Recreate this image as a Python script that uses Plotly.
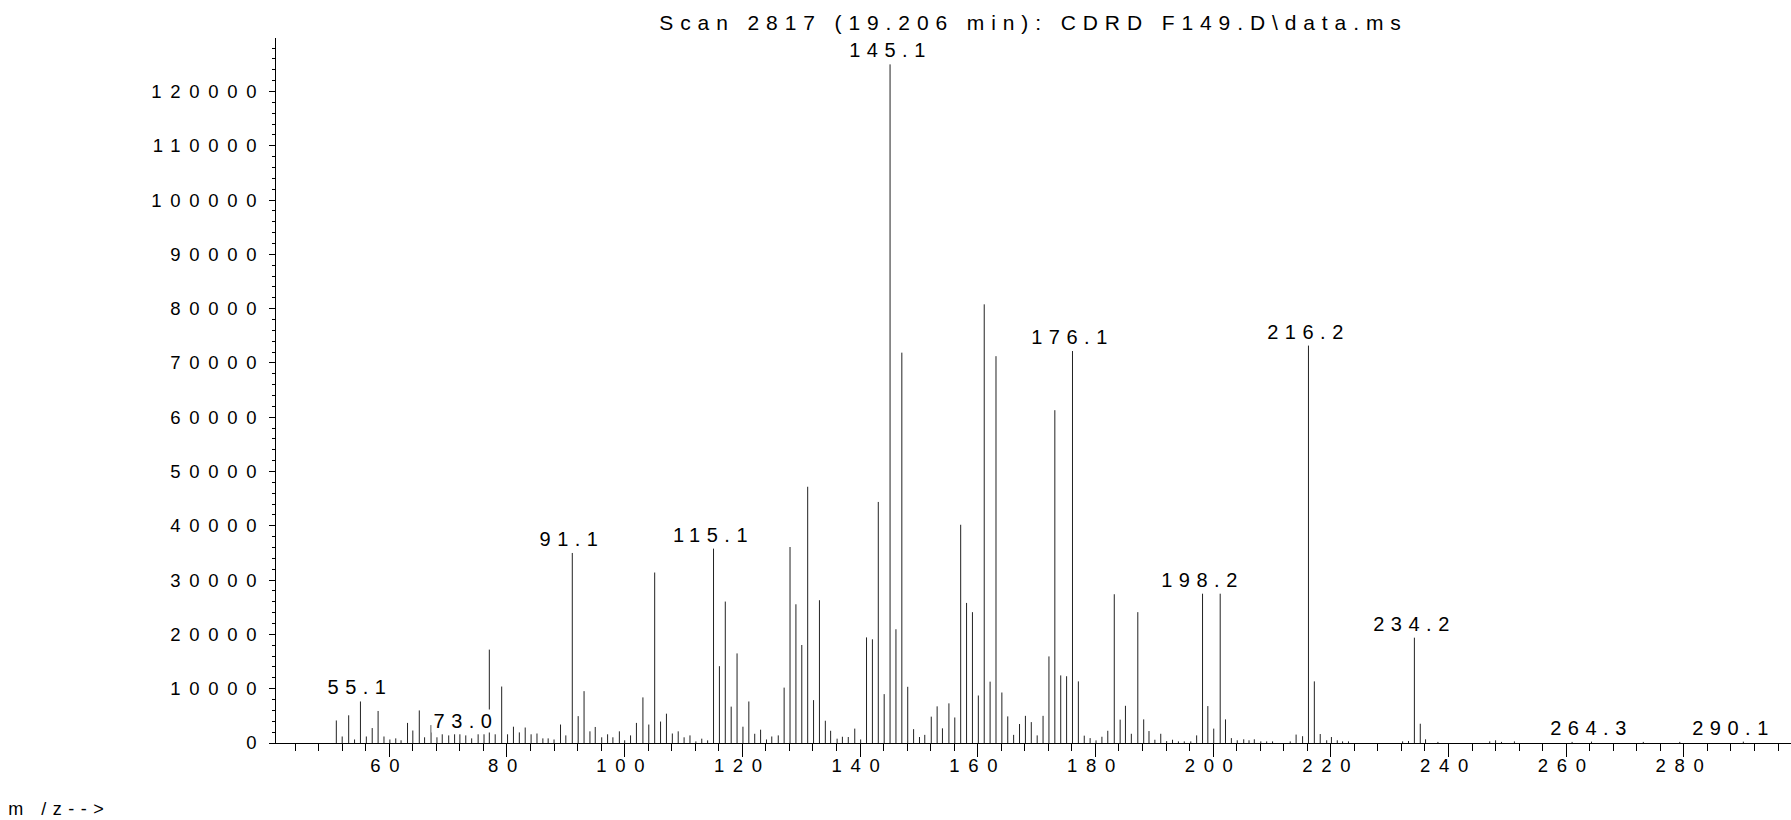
import plotly.graph_objects as go

# ---------------- data ----------------
mz = [51.0, 52.0, 53.1, 54.1, 55.1, 56.1, 57.1, 58.1, 59.1, 60.1, 61.1, 62.0, 63.1, 64.0, 65.1, 66.0,
      67.1, 68.1, 69.0, 70.1, 71.1, 72.0, 73.0, 74.0, 75.1, 76.1, 77.0, 78.0, 79.1, 80.1, 81.1, 82.1,
      83.1, 84.1, 85.1, 86.1, 87.0, 88.0, 89.1, 90.0, 91.1, 92.1, 93.1, 94.1, 95.0, 96.1, 97.1, 98.0,
      99.1, 100.0, 101.0, 102.0, 103.1, 104.1, 105.1, 106.1, 107.1, 108.1, 109.1, 110.1, 111.1, 112.1,
      113.1, 114.1, 115.1, 116.1, 117.1, 118.1, 119.1, 120.1, 121.1, 122.1, 123.1, 124.1, 125.0, 126.1,
      127.1, 128.1, 129.1, 130.1, 131.1, 132.1, 133.1, 134.1, 135.0, 136.1, 137.0, 138.0, 139.1, 140.1,
      141.1, 142.1, 143.1, 144.1, 145.1, 146.1, 147.1, 148.1, 149.1, 150.1, 151.0, 152.1, 153.1, 154.0,
      155.1, 156.1, 157.1, 158.1, 159.1, 160.1, 161.1, 162.1, 163.1, 164.1, 165.1, 166.1, 167.1, 168.1,
      169.1, 170.1, 171.1, 172.1, 173.1, 174.1, 175.1, 176.1, 177.1, 178.1, 179.1, 180.1, 181.1, 182.1,
      183.2, 184.2, 185.1, 186.1, 187.2, 188.2, 189.1, 190.1, 191.1, 192.1, 193.1, 194.1, 195.1, 196.2,
      197.2, 198.2, 199.1, 200.1, 201.2, 202.1, 203.1, 204.1, 205.2, 206.1, 207.0, 208.1, 209.1, 210.1,
      213.1, 214.1, 215.2, 216.2, 217.2, 218.2, 219.3, 220.1, 221.1, 222.0, 223.0, 232.2, 233.2, 234.2,
      235.2, 236.1, 238.2, 247.0, 248.0, 249.0, 251.2, 261.0, 264.3, 273.1, 279.3, 290.1]

abundance = [4150, 1200, 5100, 650, 7650, 1200, 2750, 5900, 1200, 650, 850, 500, 3700, 2300, 6000, 1050,
             3300, 1050, 1600, 1400, 1600, 1600, 1400, 850, 1600, 1600, 17200, 1600, 10400, 1600, 3000, 1950,
             2850, 1600, 1750, 850, 850, 650, 3400, 1400, 35000, 4950, 9550, 2150, 2950, 1050, 1600, 1050,
             2150, 500, 1400, 3700, 8400, 3400, 31400, 3950, 5400, 1750, 2150, 1050, 1400, 300,
             800, 480, 35800, 14150, 26050, 6700, 16500, 3000, 7650, 1700, 2450, 650, 1200, 1400,
             10200, 36100, 25550, 18050, 47200, 7900, 26300, 4100, 2250, 800, 1150, 1100, 2650, 650,
             19450, 19100, 44400, 9000, 125000, 20950, 71900, 10350, 2550, 1100, 1500, 4850, 6750, 2700,
             7300, 4700, 40200, 25800, 24100, 8750, 80800, 11300, 71250, 9300, 4900, 1500, 3500, 5000,
             3850, 1400, 5000, 15950, 61300, 12450, 12300, 72200, 11350, 1350, 900, 480, 1150, 2250,
             27400, 4300, 6850, 1700, 24100, 4350, 2200, 600, 1700, 350, 600, 300, 300, 300,
             1400, 27500, 6800, 2650, 27500, 4350, 900, 500, 680, 500, 680, 300, 300, 300,
             300, 1550, 1250, 73200, 11350, 1650, 500, 1100, 500, 300, 300, 300, 370, 19400,
             3550, 680, 200, 300, 500, 200, 300, 200, 250, 200, 200, 250]

peak_labels = ["55.1", "73.0", "91.1", "115.1", "145.1", "176.1", "198.2", "216.2", "234.2", "264.3", "290.1"]

x_tick_values = [60, 80, 100, 120, 140, 160, 180, 200, 220, 240, 260, 280]
y_tick_values = [0, 10000, 20000, 30000, 40000, 50000, 60000, 70000, 80000, 90000, 100000, 110000, 120000]

title_text = "Scan 2817 (19.206 min): CDRD F149.D\\data.ms"
x_label_text = "m /z-->"

# ---------------- figure ----------------
xs, ys = [], []
for m, a in zip(mz, abundance):
    xs += [m, m, None]
    ys += [0, a, None]

fig = go.Figure()
fig.add_trace(go.Scatter(x=xs, y=ys, mode="lines",
                         line=dict(color="#222222", width=1),
                         hoverinfo="skip", showlegend=False))

NARROW = "Liberation Sans Narrow, Arial Narrow, Liberation Sans, Arial, sans-serif"
REG = "Liberation Sans, Arial, sans-serif"

LS_TITLE = 6.9
LS_ANN = 6.5
LS_TICK = 8.7

annotations = []
lookup = dict(zip(mz, abundance))
for lbl in peak_labels:
    m = float(lbl)
    annotations.append(dict(
        x=m, y=lookup[m], xref="x", yref="y", text=lbl, showarrow=False,
        xanchor="center", yanchor="bottom", yshift=2,
        xshift=-10 if m > 285 else 0,
        width=17 * len(lbl), align="center",
        bgcolor="white", borderpad=0,
        font=dict(family=NARROW, size=20, color="black")))

annotations.append(dict(
    x=(56 + LS_ANN / 2 - 276) / 1515, y=-0.094, xref="paper", yref="paper", text=x_label_text,
    showarrow=False, xanchor="center", yanchor="middle",
    font=dict(family=NARROW, size=18, color="black")))

fig.update_layout(
    width=1791, height=820,
    margin=dict(l=276, r=0, t=38, b=77, pad=0),
    paper_bgcolor="white", plot_bgcolor="white",
    title=dict(text=title_text, x=0.5, xref="paper", xanchor="center",
               y=1 - 23 / 820, yref="container", yanchor="middle",
               font=dict(family=NARROW, size=21, color="black")),
    annotations=annotations,
    xaxis=dict(range=[40.75, 298.2], tickmode="array", tickvals=x_tick_values,
               ticks="outside", ticklen=13, tickwidth=1, tickcolor="black",
               ticklabelstandoff=-7,
               minor=dict(dtick=4, tick0=0, ticks="outside", ticklen=7, tickwidth=1, tickcolor="black"),
               showline=True, linecolor="black", linewidth=1,
               showgrid=False, zeroline=False,
               tickfont=dict(family=REG, size=18.5, color="black")),
    yaxis=dict(range=[0, 129856], tickmode="array", tickvals=y_tick_values, tickformat="d",
               ticks="outside", ticklen=6, tickwidth=1, tickcolor="black",
               minor=dict(dtick=2000, tick0=0, ticks="outside", ticklen=3, tickwidth=1, tickcolor="black"),
               showline=True, linecolor="black", linewidth=1,
               showgrid=False, zeroline=False,
               tickfont=dict(family=REG, size=18.5, color="black")),
)

post = """
(function(){
var gd = document.getElementById('{plot_id}');
document.body.style.margin='0';
document.body.style.overflow='hidden';
function sp(){
  gd.querySelectorAll('text.gtitle').forEach(function(t){t.style.letterSpacing='%spx';});
  gd.querySelectorAll('text.annotation-text').forEach(function(t){t.style.letterSpacing='%spx';});
  gd.querySelectorAll('g.xtick text, g.ytick text').forEach(function(t){t.style.letterSpacing='%spx';});
  gd.querySelectorAll('g.annotation-text-g').forEach(function(g){g.removeAttribute('clip-path');});
  gd.querySelectorAll('.annotation-text-g *').forEach(function(e){if(e.getAttribute('clip-path')) e.removeAttribute('clip-path');});
}
sp();
if (gd.on) { gd.on('plotly_afterplot', sp); }
setTimeout(sp, 50);
})();
""" % (LS_TITLE, LS_ANN, LS_TICK)

fig.write_html("out.html", post_script=post, config={"displayModeBar": False})
